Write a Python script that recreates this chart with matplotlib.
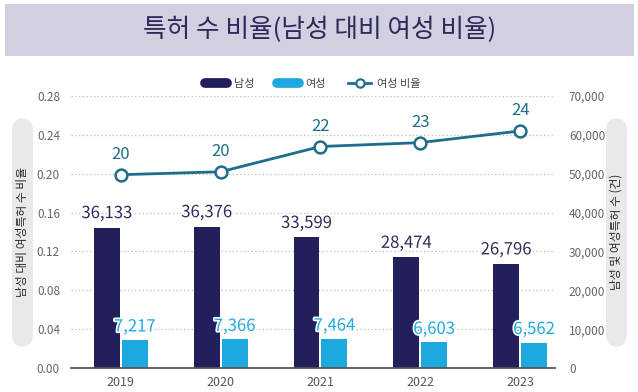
import matplotlib
matplotlib.use("Agg")
import matplotlib.pyplot as plt
from matplotlib.lines import Line2D
from matplotlib.patches import FancyBboxPatch
import matplotlib.patheffects as pe

plt.rcParams['font.family'] = ['Noto Sans CJK KR', 'DejaVu Sans']

years = ['2019', '2020', '2021', '2022', '2023']
male = [36133, 36376, 33599, 28474, 26796]
female = [7217, 7366, 7464, 6603, 6562]
ratio = [0.199, 0.202, 0.228, 0.232, 0.244]
ratio_labels = ['20', '20', '22', '23', '24']
left_ticks = [0.00, 0.04, 0.08, 0.12, 0.16, 0.20, 0.24, 0.28]
right_ticks = [0, 10000, 20000, 30000, 40000, 50000, 60000, 70000]

NAVY = '#221f5c'
SKY = '#1ea8e0'
TEAL = '#1f6d8c'
GREY = '#666666'

W, H = 638, 392
fig = plt.figure(figsize=(W / 100, H / 100), dpi=100)

def fx(px):
    return px / W

def fy(py):
    return 1 - py / H

# title banner
fig.patches.append(FancyBboxPatch((fx(5), fy(56)), fx(629), 52 / H,
                                  boxstyle='square,pad=0', transform=fig.transFigure,
                                  facecolor='#d0d0e0', edgecolor='none', zorder=0))
fig.text(fx(320), fy(30), '특허 수 비율(남성 대비 여성 비율)', ha='center', va='center',
         fontsize=18.5, color='#2d2b5b')

# y-label boxes
for x0 in (12, 606):
    fig.patches.append(FancyBboxPatch((fx(x0), fy(347)), fx(21), 229 / H,
                                      boxstyle='round,pad=0,rounding_size=0.02',
                                      transform=fig.transFigure, mutation_aspect=W / H,
                                      facecolor='#e8e8ed', edgecolor='none', zorder=0))
fig.text(fx(22.5), fy(232), '남성 대비 여성특허 수 비율', rotation=90, ha='center', va='center',
         fontsize=8.5, color='#2a2a2a')
fig.text(fx(616.5), fy(232), '남성 및 여성특허 수 (건)', rotation=90, ha='center', va='center',
         fontsize=8.5, color='#2a2a2a')

ax = fig.add_axes([fx(71), fy(368), fx(555 - 71), (368 - 96) / H])
ax2 = ax.twinx()
ax.set_zorder(2)
ax2.set_zorder(1)
ax.patch.set_visible(False)

x = list(range(len(years)))
bw = 0.26
ax2.bar([i - bw / 2 - 0.01 for i in x], male, width=bw, color=NAVY, zorder=3)
ax2.bar([i + bw / 2 + 0.01 for i in x], female, width=bw, color=SKY, zorder=3)
ax2.set_ylim(0, 70000)
ax2.set_yticks(right_ticks)
ax2.set_yticklabels([f'{v:,}' for v in right_ticks])
ax2.grid(axis='y', color='#bbbbbb', linestyle=(0, (1, 2)), linewidth=0.9)
ax2.set_axisbelow(True)

stroke = [pe.withStroke(linewidth=2.5, foreground='white')]
for i in x:
    ax2.annotate(f'{male[i]:,}', (i - bw / 2 - 0.01, male[i]), xytext=(0, 14),
                 textcoords='offset pixels', ha='center', va='center', fontsize=12,
                 color='#2e2b5e', path_effects=stroke, zorder=5)
    ax2.annotate(f'{female[i]:,}', (i + bw / 2 + 0.01, female[i]), xytext=(0, 13),
                 textcoords='offset pixels', ha='center', va='center', fontsize=12,
                 color=SKY, path_effects=stroke, zorder=5)

ax.plot(x, ratio, color=TEAL, lw=2, marker='o', markersize=8.5,
        markerfacecolor='white', markeredgecolor=TEAL, markeredgewidth=1.8, zorder=4)
for i in x:
    ax.annotate(ratio_labels[i], (i, ratio[i]), xytext=(0, 20), textcoords='offset pixels',
                ha='center', va='center', fontsize=12, color=TEAL, fontweight='medium')

ax.set_xlim(-0.5, 4.35)
ax.set_ylim(0, 0.28)
ax.set_yticks(left_ticks)
ax.set_yticklabels([f'{v:.2f}' for v in left_ticks])
ax.set_xticks(x)
ax.set_xticklabels(years)

for a in (ax, ax2):
    for s in ('top', 'left', 'right', 'bottom'):
        a.spines[s].set_visible(False)
    a.tick_params(length=0, labelsize=8.5, labelcolor=GREY)
ax.spines['bottom'].set_visible(True)
ax.spines['bottom'].set_color('#555555')
ax.spines['bottom'].set_linewidth(1.3)
ax.tick_params(axis='x', labelsize=9, labelcolor='#555555', pad=6)
ax.tick_params(axis='y', pad=8)
ax2.tick_params(axis='y', pad=10)

handles = [Line2D([0], [0], color=NAVY, lw=7, solid_capstyle='round'),
           Line2D([0], [0], color=SKY, lw=7, solid_capstyle='round'),
           Line2D([0], [0], color=TEAL, lw=2, marker='o', markersize=6,
                  markerfacecolor='white', markeredgecolor=TEAL, markeredgewidth=1.5)]
fig.legend(handles, ['남성', '여성', '여성 비율'], loc='center', ncol=3,
           bbox_to_anchor=(fx(313), fy(84)), frameon=False, fontsize=8,
           handlelength=2.0, handletextpad=0.6, columnspacing=2.0, labelcolor='#444444')

fig.savefig('out.png', dpi=100)
